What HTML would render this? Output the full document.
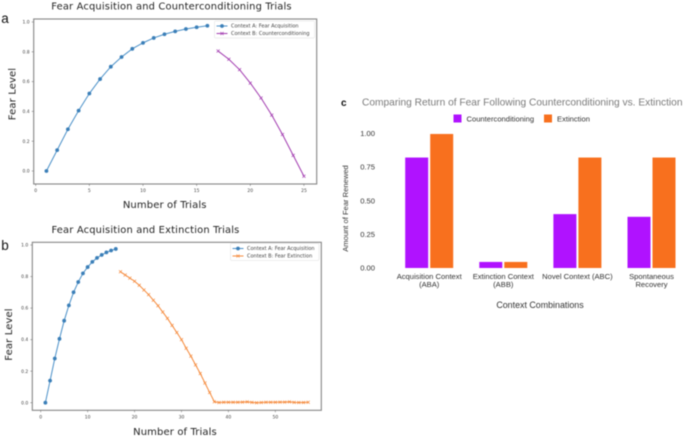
<!DOCTYPE html>
<html><head><meta charset="utf-8">
<style>
html,body{margin:0;padding:0;background:#fff;width:683px;height:439px;overflow:hidden}
svg{display:block;filter:blur(0.4px)}
text{font-family:"DejaVu Sans",sans-serif}
.arial{font-family:"Liberation Sans",sans-serif}
</style></head>
<body>
<svg id="fig" width="683" height="439" viewBox="0 0 683 439" xmlns="http://www.w3.org/2000/svg"></svg>
<script>
const acquisition = [0,0.14,0.28,0.405,0.52,0.617,0.70,0.765,0.82,0.86,0.893,0.918,0.937,0.953,0.965,0.975];
const counterconditioning = [0.805,0.75,0.68,0.59,0.49,0.375,0.245,0.105,-0.035];
const extinctionTrials = [0.83,0.81,0.79,0.77,0.745,0.715,0.685,0.65,0.615,0.575,0.535,0.49,0.445,0.40,0.345,0.295,0.24,0.185,0.125,0.065,0.006,0.001,0.003,0.003,0.003,0.003,0.004,0.005,0.002,0,0.001,0.003,0.003,0.003,0.004,0.004,0.005,0.002,0.001,0.001,0.003];
const lineXTicksA = [0,5,10,15,20,25];
const lineXTicksB = [0,10,20,30,40,50];
const lineYTicks = [0,0.2,0.4,0.6,0.8,1.0];
const barCategories = [["Acquisition Context","(ABA)"],["Extinction Context","(ABB)"],["Novel Context (ABC)"],["Spontaneous","Recovery"]];
const barCounter = [0.82,0.045,0.40,0.38];
const barExtinction = [0.995,0.045,0.82,0.82];
const barYTicks = [0,0.25,0.5,0.75,1.0];

const svg = document.getElementById('fig');
const NS = 'http://www.w3.org/2000/svg';
function mk(tag, attrs, parent, txt){
  const e = document.createElementNS(NS, tag);
  for (const k in attrs) e.setAttribute(k, attrs[k]);
  if (txt !== undefined) e.textContent = txt;
  (parent || svg).appendChild(e);
  return e;
}
function marks(g, pts, color, kind){
  pts.forEach(p => {
    if (kind === 'o') {
      const c = mk('circle', {cx:p[0], cy:p[1], r:1.9, fill:'#3b7fb8'}, g);
      
      
    } else {
      const s = 1.5;
      const m = mk('path', {d:`M${p[0]-s} ${p[1]-s}L${p[0]+s} ${p[1]+s}M${p[0]-s} ${p[1]+s}L${p[0]+s} ${p[1]-s}`, stroke:color, 'stroke-width':0.7, fill:'none'}, g);
      
      
    }
  });
}
function linePanel(cfg){
  const g = mk('g', {});
  
  
  const X = v => cfg.x0 + v * cfg.xs;
  const Y = v => cfg.y0 - v * cfg.ys;
  const f = cfg.frame;
  const title = mk('text', {x:cfg.titleX, y:cfg.titleY, 'font-size':9.9, 'text-anchor':'middle', fill:'#222', 'letter-spacing':0.18}, g, cfg.title);
  
  
  const frame = mk('rect', {x:f[0], y:f[1], width:f[2]-f[0], height:f[3]-f[1], fill:'#fff', stroke:'#858585', 'stroke-width':1.1}, g);
  
  
  cfg.xticks.forEach(t => {
    mk('line', {x1:X(t), x2:X(t), y1:f[3], y2:f[3]+2, stroke:'#666', 'stroke-width':0.5}, g);
    const l = mk('text', {x:X(t), y:f[3]+8, 'font-size':4.5, 'text-anchor':'middle', fill:'#444'}, g, String(t));
    
    
  });
  lineYTicks.forEach(t => {
    mk('line', {x1:f[0]-2, x2:f[0], y1:Y(t), y2:Y(t), stroke:'#666', 'stroke-width':0.5}, g);
    const l = mk('text', {x:f[0]-4, y:Y(t)+1.6, 'font-size':4.5, 'text-anchor':'end', fill:'#444'}, g, t.toFixed(1));
    
    
  });
  const a = acquisition.map((v,i) => [X(i+1), Y(v)]);
  const b = cfg.second.map((v,i) => [X(i+17), Y(v)]);
  const la = mk('polyline', {points:a.map(p=>p.join(',')).join(' '), fill:'none', stroke:'#4a90c8', 'stroke-width':1}, g);
  
  
  marks(g, a, '#3b7fb8', 'o');
  const lb = mk('polyline', {points:b.map(p=>p.join(',')).join(' '), fill:'none', stroke:cfg.color, 'stroke-width':1}, g);
  
  
  marks(g, b, cfg.color, 'x');
  const xl = mk('text', {x:cfg.xlX, y:cfg.xlY, 'font-size':10, 'text-anchor':'middle', fill:'#222', 'letter-spacing':0.12}, g, 'Number of Trials');
  
  
  const yl = mk('text', {transform:`translate(${cfg.ylX} ${cfg.ylY}) rotate(-90)`, 'font-size':10, 'text-anchor':'middle', fill:'#222', 'letter-spacing':0.12}, g, 'Fear Level');
  
  
  const lg = cfg.legend;
  const box = mk('rect', {x:lg[0], y:lg[1], width:lg[2], height:17, fill:'#fff', stroke:'#ddd', 'stroke-width':0.5, rx:1}, g);
  
  
  const ly1 = lg[1]+5, ly2 = lg[1]+12.5, lx = lg[0]+2;
  mk('line', {x1:lx, x2:lx+11, y1:ly1, y2:ly1, stroke:'#4a90c8', 'stroke-width':1}, g);
  marks(g, [[lx+5.5, ly1]], '#3b7fb8', 'o');
  mk('line', {x1:lx, x2:lx+11, y1:ly2, y2:ly2, stroke:cfg.color, 'stroke-width':1}, g);
  marks(g, [[lx+5.5, ly2]], cfg.color, 'x');
  const t1 = mk('text', {x:lx+14.5, y:ly1+1.7, 'font-size':5, fill:'#444'}, g, 'Context A: Fear Acquisition');
  
  
  const t2 = mk('text', {x:lx+14.5, y:ly2+1.7, 'font-size':5, fill:'#444'}, g, cfg.label2);
  
  
  const letter = mk('text', {x:cfg.letter[0], y:cfg.letter[1], 'font-size':13.5, fill:'#111', class:'arial'}, g, cfg.letter[2]);
  
  
}
linePanel({name:'panel-a-chart', x0:35.7, xs:10.73, y0:171, ys:149, frame:[33.7,19,316.7,184],
  title:'Fear Acquisition and Counterconditioning Trials', titleX:171.5, titleY:9.5,
  xticks:lineXTicksA, second:counterconditioning, color:'#a23cb0',
  xlX:164.7, xlY:208, ylX:15.5, ylY:94, legend:[214.5,21,100], label2:'Context B: Counterconditioning', letter:[1.2,23,'a']});
linePanel({name:'panel-b-chart', x0:40.7, xs:4.693, y0:402.7, ys:157.7, frame:[32.3,242.3,321.3,410.3],
  title:'Fear Acquisition and Extinction Trials', titleX:145.5, titleY:233,
  xticks:lineXTicksB, second:extinctionTrials, color:'#f58a3c',
  xlX:175, xlY:435, ylX:12, ylY:334.5, legend:[230.5,243.5,88.5], label2:'Context B: Fear Extinction', letter:[1.2,250,'b']});

(function(){
  const g = mk('g', {});
  
  
  const y0 = 268, ys = 134.7, x0 = 429.2, step = 74.1, bw = 23;
  const Y = v => y0 - v * ys;
  const letter = mk('text', {x:341, y:106, 'font-size':10, 'font-weight':'bold', fill:'#111', class:'arial'}, g, 'c');
  
  
  const title = mk('text', {x:362, y:105.5, 'font-size':10.2, fill:'#7b7b7b', class:'arial'}, g, 'Comparing Return of Fear Following Counterconditioning vs. Extinction');
  
  
  const s1 = mk('rect', {x:453.5, y:114.5, width:8, height:8, fill:'#b012ff'}, g);
  
  
  const l1 = mk('text', {x:466.5, y:121.5, 'font-size':7.6, fill:'#333', class:'arial'}, g, 'Counterconditioning');
  
  
  const s2 = mk('rect', {x:544, y:114.5, width:8, height:8, fill:'#f8701e'}, g);
  
  
  const l2 = mk('text', {x:557, y:121.5, 'font-size':7.6, fill:'#333', class:'arial'}, g, 'Extinction');
  
  
  barYTicks.forEach(t => {
    const l = mk('text', {x:375, y:Y(t)+2.6, 'font-size':7.6, 'text-anchor':'end', fill:'#333', class:'arial'}, g, t.toFixed(2));
    
    
  });
  barCategories.forEach((lines, i) => {
    const c = x0 + i * step;
    const a = mk('rect', {x:c-24, y:Y(barCounter[i]), width:bw, height:barCounter[i]*ys, fill:'#b012ff'}, g);
    
    
    const b = mk('rect', {x:c+1, y:Y(barExtinction[i]), width:bw, height:barExtinction[i]*ys, fill:'#f8701e'}, g);
    
    
    lines.forEach((ln, j) => {
      const t = mk('text', {x:c, y:279 + j*8, 'font-size':7.6, 'text-anchor':'middle', fill:'#333', class:'arial'}, g, ln);
      
      
    });
  });
  const xl = mk('text', {x:540, y:308, 'font-size':8.9, 'text-anchor':'middle', fill:'#333', class:'arial'}, g, 'Context Combinations');
  
  
  const yl = mk('text', {transform:'translate(348 208.5) rotate(-90)', 'font-size':7.6, 'text-anchor':'middle', fill:'#333', class:'arial'}, g, 'Amount of Fear Renewed');
  
  
})();
</script>
</body></html>
